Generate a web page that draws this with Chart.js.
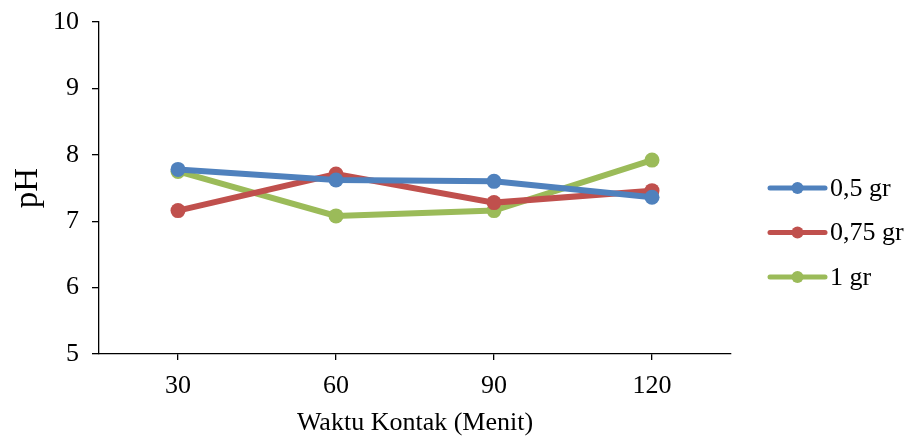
<!DOCTYPE html>
<html>
<head>
<meta charset="utf-8">
<script src="https://cdn.jsdelivr.net/npm/chart.js@4"></script>
<style>
  html, body { margin: 0; padding: 0; background: #fff; }
  #wrap { width: 905px; height: 437px; position: relative; }
</style>
</head>
<body>
<div id="wrap"><canvas id="c"></canvas></div>
<script>
// Contact time (minutes) and measured pH for each adsorbent dose
const categories = ['30', '60', '90', '120'];
const dose05 = [7.78, 7.62, 7.60, 7.36];
const dose075 = [7.16, 7.71, 7.28, 7.46];
const dose1 = [7.75, 7.08, 7.16, 7.92];
const seriesNames = ['0,5 gr', '0,75 gr', '1 gr'];
const yTicks = [5, 6, 7, 8, 9, 10];

const FONT = "'Liberation Serif', 'Times New Roman', serif";
const colors = ['#4F81BD', '#C0504D', '#9BBB59'];

function makeSet(label, data, color) {
  return {
    label, data,
    borderColor: color, backgroundColor: color,
    borderWidth: 6,
    pointRadius: 7.5, pointHoverRadius: 7.5,
    pointBackgroundColor: color, pointBorderColor: color, pointBorderWidth: 0,
    tension: 0, clip: false
  };
}

// Legend on the right: short line with a marker, then the label
const sideLegend = {
  id: 'sideLegend',
  afterDraw(chart) {
    const ctx = chart.ctx;
    const x0 = 770, x1 = 825, xt = 830;
    const rows = [188, 232.5, 277];
    ctx.save();
    chart.data.datasets.forEach((ds, i) => {
      const y = rows[i];
      ctx.strokeStyle = ds.borderColor;
      ctx.lineWidth = 5;
      ctx.lineCap = 'round';
      ctx.beginPath(); ctx.moveTo(x0, y); ctx.lineTo(x1, y); ctx.stroke();
      ctx.fillStyle = ds.borderColor;
      ctx.beginPath(); ctx.arc((x0 + x1) / 2, y, 6, 0, Math.PI * 2); ctx.fill();
      ctx.fillStyle = '#000';
      ctx.font = '26px ' + FONT;
      ctx.textAlign = 'left';
      ctx.textBaseline = 'middle';
      ctx.fillText(ds.label, xt, y + 1);
    });
    ctx.restore();
  }
};

new Chart(document.getElementById('c'), {
  type: 'line',
  data: {
    labels: categories,
    datasets: [
      makeSet(seriesNames[0], dose05, colors[0]),
      makeSet(seriesNames[1], dose075, colors[1]),
      makeSet(seriesNames[2], dose1, colors[2])
    ]
  },
  options: {
    responsive: true,
    maintainAspectRatio: false,
    animation: false,
    events: [],
    layout: { padding: { top: 22, right: 174, bottom: 0, left: 0 } },
    plugins: { legend: { display: false }, tooltip: { enabled: false } },
    scales: {
      x: {
        type: 'category',
        offset: true,
        afterFit(scale) {
          scale.height = 83;
          scale.paddingLeft = 0; scale.paddingRight = 0;
        },
        border: { display: true, color: '#000', width: 1.3 },
        grid: { display: true, drawOnChartArea: false, offset: false, color: '#000', tickLength: 6, lineWidth: 1.3 },
        ticks: { color: '#000', font: { family: FONT, size: 26 }, padding: 11, maxRotation: 0 },
        title: { display: true, text: 'Waktu Kontak (Menit)', color: '#000',
                 font: { family: FONT, size: 26, lineHeight: 1 }, padding: { top: 0, bottom: 1 } }
      },
      y: {
        min: 5, max: 10,
        afterFit(scale) {
          scale.width = 99;
          scale.paddingTop = 0; scale.paddingBottom = 0;
        },
        afterBuildTicks(scale) { scale.ticks = yTicks.map(v => ({ value: v })); },
        border: { display: true, color: '#000', width: 1.3 },
        grid: { display: true, drawOnChartArea: false, color: '#000', tickLength: 7, lineWidth: 1.3 },
        ticks: { color: '#000', font: { family: FONT, size: 26 }, padding: 13 },
        title: { display: true, text: 'pH', color: '#000',
                 font: { family: FONT, size: 33, lineHeight: 1 }, padding: { top: 12, bottom: 0 } }
      }
    }
  },
  plugins: [sideLegend]
});
</script>
</body>
</html>
